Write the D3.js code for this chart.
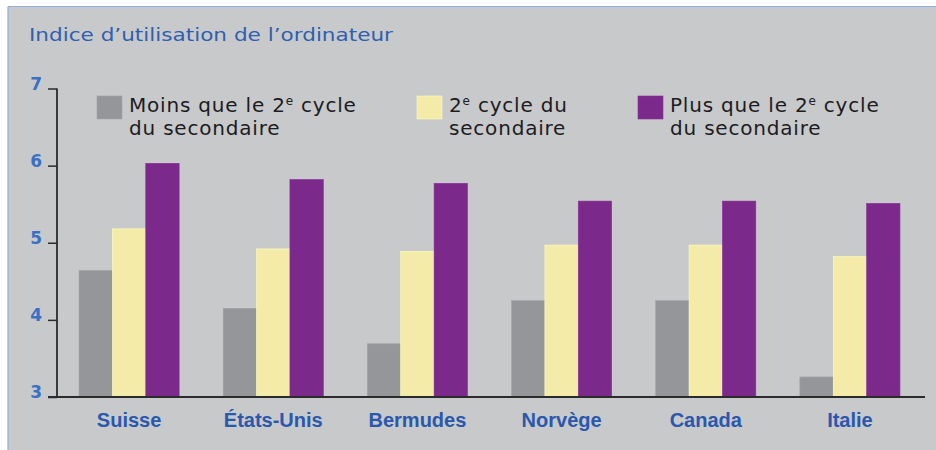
<!DOCTYPE html>
<html>
<head>
<meta charset="utf-8">
<script src="https://cdn.jsdelivr.net/npm/d3@7"></script>
<style>
  html, body { margin: 0; padding: 0; background: #ffffff; }
  svg { display: block; }
</style>
</head>
<body>
<svg id="chart" width="936" height="450"></svg>
<script>
// Computer use index by level of parental education
const countries = ["Suisse", "États-Unis", "Bermudes", "Norvège", "Canada", "Italie"];
const seriesKeys = ["moins", "deuxieme", "plus"];
const seriesLabels = [
  ["Moins que le 2", "e", " cycle", "du secondaire"],
  ["2", "e", " cycle du", "secondaire"],
  ["Plus que le 2", "e", " cycle", "du secondaire"]
];
const moinsValues    = [4.64, 4.15, 3.69, 4.25, 4.25, 3.26];
const deuxiemeValues = [5.18, 4.92, 4.89, 4.97, 4.97, 4.82];
const plusValues     = [6.03, 5.82, 5.77, 5.54, 5.54, 5.51];
const yTicks = [3, 4, 5, 6, 7];
const titleText = "Indice d\u2019utilisation de l\u2019ordinateur";

const colors = ["#959699", "#f4eba9", "#7b2a8b"];
const valuesByKey = { moins: moinsValues, deuxieme: deuxiemeValues, plus: plusValues };

const svg = d3.select("#chart");

// panel
svg.append("rect").attr("x", 8).attr("y", 6.5).attr("width", 940).attr("height", 460)
  .attr("fill", "#c8c9cb");
svg.append("line").attr("x1", 8).attr("x2", 936).attr("y1", 6.5).attr("y2", 6.5)
  .attr("stroke", "#8fb0dd").attr("stroke-width", 1.2);
svg.append("line").attr("x1", 8).attr("x2", 8).attr("y1", 6.5).attr("y2", 450)
  .attr("stroke", "#8fb0dd").attr("stroke-width", 1.2);

// title
svg.append("text").attr("x", 29).attr("y", 41)
  .attr("font-family", "DejaVu Sans, Verdana, sans-serif")
  .attr("font-size", 18).attr("fill", "#2f5fae")
  .attr("textLength", 364).attr("lengthAdjust", "spacingAndGlyphs")
  .text(titleText);

// scales
const x0 = d3.scaleBand().domain(countries).range([57, 922]).padding(0);
const x1 = d3.scaleBand().domain(seriesKeys).range([0, x0.bandwidth()])
  .paddingInner(0).paddingOuter(0.66);
const y = d3.scaleLinear().domain([3, 7]).range([397, 88.5]);

// bars
const groups = svg.append("g").selectAll("g").data(countries).join("g")
  .attr("transform", d => `translate(${x0(d)},0)`);
groups.selectAll("rect")
  .data((c, i) => seriesKeys.map((k, j) => ({ key: k, j, v: valuesByKey[k][i] })))
  .join("rect")
  .attr("x", d => x1(d.key))
  .attr("width", x1.bandwidth())
  .attr("y", d => y(d.v))
  .attr("height", d => y(3) - y(d.v))
  .attr("fill", d => colors[d.j])
  .attr("stroke", d => d3.color(colors[d.j]).brighter(0.25))
  .attr("stroke-width", 0.6);

// y axis
const yAxis = d3.axisLeft(y).tickValues(yTicks).tickSize(9).tickFormat(d3.format("d"));
const gy = svg.append("g").attr("transform", "translate(57,0)").call(yAxis);
gy.select(".domain").remove();
gy.append("line").attr("x1", 0).attr("x2", 0).attr("y1", y(7)).attr("y2", y(3))
  .attr("stroke", "#2b2b2b").attr("stroke-width", 1.8);
gy.selectAll(".tick line").attr("stroke", "#2b2b2b").attr("stroke-width", 1.5);
gy.selectAll(".tick text")
  .attr("x", -15).attr("dy", "0.05em")
  .attr("font-family", "DejaVu Sans, Verdana, sans-serif")
  .attr("font-weight", "bold").attr("font-size", 17).attr("fill", "#3a70c6");

// x axis
const xAxis = d3.axisBottom(x0).tickSize(0);
const gx = svg.append("g").attr("transform", `translate(0,${y(3)})`).call(xAxis);
gx.select(".domain").remove();
gx.append("line").attr("x1", 48).attr("x2", 925).attr("y1", 0).attr("y2", 0)
  .attr("stroke", "#2b2b2b").attr("stroke-width", 2);
gx.selectAll(".tick text")
  .attr("y", 16)
  .attr("font-family", "Liberation Sans Narrow, Arial Narrow, sans-serif")
  .attr("font-weight", "bold").attr("font-size", 20).attr("fill", "#2a58ad");

// legend
const legendX = [97, 417, 638];
const legend = svg.append("g").selectAll("g").data(seriesKeys).join("g")
  .attr("transform", (d, i) => `translate(${legendX[i]},96)`);
legend.append("rect").attr("width", 25).attr("height", 23)
  .attr("fill", (d, i) => colors[i])
  .attr("stroke", (d, i) => d3.color(colors[i]).brighter(0.25)).attr("stroke-width", 0.6);
legend.each(function (d, i) {
  const lab = seriesLabels[i];
  const t = d3.select(this).append("text")
    .attr("font-family", "DejaVu Sans, Verdana, sans-serif")
    .attr("font-size", 20).attr("letter-spacing", 0.8).attr("fill", "#1c1c22");
  const l1 = t.append("tspan").attr("x", 32).attr("y", 16);
  l1.append("tspan").text(lab[0]);
  l1.append("tspan").attr("dy", -7).attr("font-size", 12).text(lab[1]);
  l1.append("tspan").attr("dy", 7).text(lab[2]);
  t.append("tspan").attr("x", 32).attr("y", 39).text(lab[3]);
});
</script>
</body>
</html>
